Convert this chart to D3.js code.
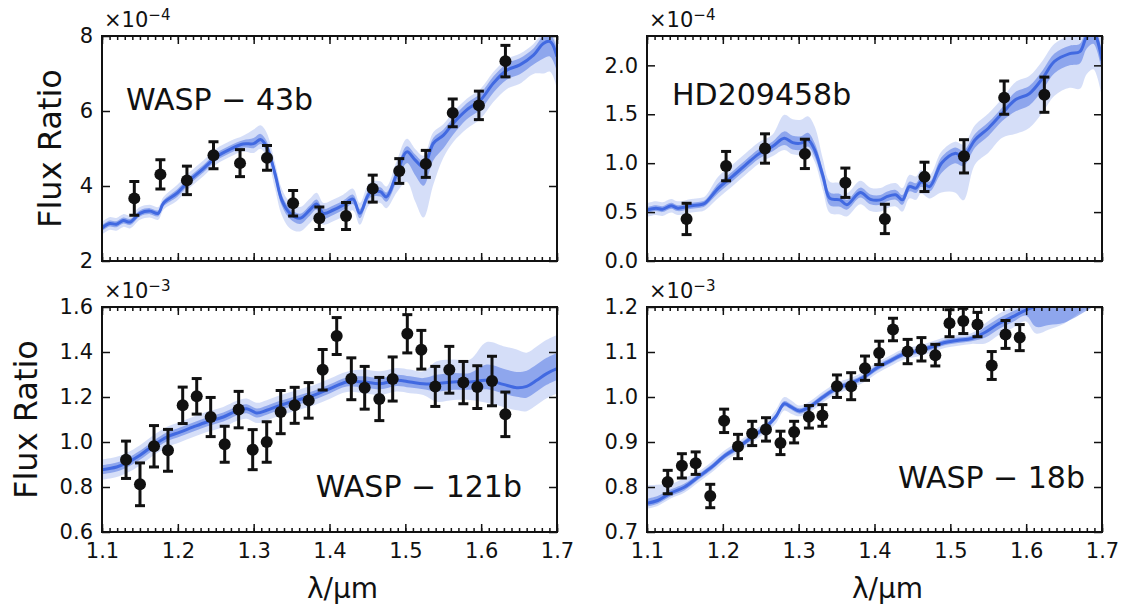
<!DOCTYPE html>
<html>
<head>
<meta charset="utf-8">
<script src="https://cdn.jsdelivr.net/npm/d3@7"></script>
<style>
  body { margin: 0; background: #fff; }
  text { font-family: "DejaVu Sans", sans-serif; fill: #111; }
</style>
</head>
<body>
<svg id="chart" width="1126" height="608"></svg>
<script>
// x axis
const xTicks = [1.1, 1.2, 1.3, 1.4, 1.5, 1.6, 1.7];

// WASP-43b (x1e-4)
const w43Wave = [1.1426, 1.177, 1.212, 1.247, 1.282, 1.3176, 1.352, 1.3866, 1.4218, 1.457, 1.492, 1.527, 1.5625, 1.597, 1.632];
const w43Flux = [3.67, 4.31, 4.15, 4.82, 4.61, 4.75, 3.54, 3.14, 3.2, 3.93, 4.4, 4.59, 5.95, 6.15, 7.33];
const w43Err  = [0.45, 0.39, 0.38, 0.36, 0.36, 0.33, 0.34, 0.3, 0.36, 0.36, 0.33, 0.36, 0.37, 0.38, 0.42];
const w43ModelWave = [1.100, 1.110, 1.119, 1.128, 1.137, 1.150, 1.163, 1.174, 1.181, 1.199, 1.216, 1.234, 1.251, 1.269, 1.286, 1.300, 1.309, 1.317, 1.328, 1.337, 1.348, 1.361, 1.374, 1.383, 1.392, 1.405, 1.418, 1.431, 1.440, 1.453, 1.467, 1.475, 1.489, 1.502, 1.513, 1.524, 1.537, 1.550, 1.563, 1.581, 1.599, 1.616, 1.634, 1.651, 1.669, 1.682, 1.691, 1.700];
const w43ModelMed  = [2.88, 3.00, 2.98, 3.08, 3.04, 3.27, 3.33, 3.27, 3.54, 3.81, 4.16, 4.47, 4.78, 4.98, 5.12, 5.13, 5.24, 5.05, 4.34, 3.63, 3.27, 3.14, 3.36, 3.52, 3.27, 3.36, 3.49, 3.65, 3.27, 3.81, 3.85, 3.71, 4.34, 4.91, 4.69, 4.51, 5.14, 5.35, 5.67, 6.03, 6.29, 6.74, 7.09, 7.23, 7.49, 7.80, 7.85, 7.45];
const w43Up1 = [.08, .08, .08, .08, .08, .08, .08, .08, .08, .1, .1, .1, .1, .1, .1, .15, .15, .15, .13, .13, .13, .12, .12, .12, .12, .12, .12, .12, .12, .12, .12, .12, .15, .15, .15, .15, .15, .15, .15, .18, .18, .18, .18, .18, .18, .2, .2, .2];
const w43Dn1 = [.08, .08, .08, .08, .08, .08, .08, .08, .08, .1, .1, .1, .1, .1, .1, .12, .12, .12, .15, .15, .15, .15, .15, .15, .13, .13, .13, .13, .13, .13, .13, .13, .2, .3, .4, .5, .45, .35, .3, .25, .25, .25, .25, .25, .25, .4, .4, .4];
const w43Up2 = [.17, .17, .17, .17, .17, .17, .17, .17, .17, .22, .22, .22, .22, .22, .22, .38, .38, .38, .3, .3, .3, .3, .3, .3, .28, .28, .28, .28, .28, .28, .28, .28, .35, .35, .3, .3, .3, .3, .3, .3, .3, .3, .3, .3, .3, .3, .3, .3];
const w43Dn2 = [.17, .17, .17, .17, .17, .17, .17, .17, .17, .2, .2, .2, .2, .2, .2, .25, .25, .25, .4, .4, .4, .35, .35, .35, .3, .3, .3, .3, .3, .3, .3, .3, .5, .8, 1.1, 1.35, 1.1, .6, .5, .5, .5, .5, .5, .5, .5, .8, .8, .85];
const w43YTicks = [2, 4, 6, 8];

// HD209458b (x1e-4)
const hdWave = [1.1522, 1.2043, 1.2556, 1.3082, 1.3616, 1.4137, 1.4659, 1.518, 1.571, 1.624];
const hdFlux = [0.43, 0.97, 1.15, 1.095, 0.80, 0.43, 0.86, 1.07, 1.67, 1.70];
const hdErr  = [0.16, 0.15, 0.15, 0.15, 0.15, 0.15, 0.15, 0.17, 0.17, 0.18];
const hdModelWave = [1.100, 1.1117, 1.1206, 1.1318, 1.1406, 1.1585, 1.170, 1.1763, 1.1941, 1.2119, 1.2297, 1.2475, 1.2653, 1.281, 1.2921, 1.3032, 1.3122, 1.3211, 1.3322, 1.3412, 1.3545, 1.3635, 1.3813, 1.3946, 1.4079, 1.4169, 1.428, 1.4369, 1.4459, 1.4548, 1.4614, 1.4726, 1.4883, 1.5061, 1.5172, 1.5327, 1.5505, 1.5684, 1.5862, 1.604, 1.6218, 1.6373, 1.6574, 1.6708, 1.6797, 1.6886, 1.700];
const hdModelMed  = [0.52, 0.54, 0.53, 0.565, 0.54, 0.565, 0.575, 0.59, 0.745, 0.86, 0.98, 1.095, 1.17, 1.255, 1.21, 1.205, 1.24, 1.135, 0.865, 0.64, 0.625, 0.575, 0.70, 0.63, 0.625, 0.66, 0.677, 0.625, 0.76, 0.745, 0.81, 0.76, 1.0, 1.10, 1.07, 1.24, 1.36, 1.51, 1.65, 1.71, 1.87, 2.04, 2.12, 2.14, 2.29, 2.34, 2.05];
const hdUp1 = [.03, .03, .03, .03, .03, .03, .03, .03, .05, .05, .05, .05, .05, .07, .07, .07, .07, .07, .06, .06, .06, .05, .05, .05, .05, .05, .05, .05, .05, .05, .05, .05, .06, .06, .06, .06, .06, .06, .08, .08, .08, .08, .08, .08, .08, .08, .08];
const hdDn1 = [.03, .03, .03, .03, .03, .03, .03, .03, .05, .05, .05, .05, .05, .07, .07, .07, .07, .07, .07, .07, .07, .05, .05, .05, .05, .05, .05, .05, .05, .05, .05, .05, .1, .1, .1, .08, .08, .08, .12, .12, .12, .12, .12, .12, .12, .12, .12];
const hdUp2 = [.07, .07, .07, .07, .07, .07, .07, .07, .12, .12, .12, .12, .12, .24, .24, .24, .24, .24, .17, .17, .17, .12, .12, .12, .12, .12, .12, .12, .12, .12, .12, .12, .12, .12, .12, .15, .15, .15, .18, .18, .18, .18, .18, .18, .18, .18, .18];
const hdDn2 = [.07, .07, .07, .07, .07, .07, .07, .07, .1, .1, .1, .1, .1, .12, .12, .12, .12, .12, .15, .15, .15, .12, .12, .12, .12, .12, .12, .12, .12, .12, .12, .12, .3, .4, .45, .25, .25, .25, .35, .35, .35, .35, .35, .38, .38, .38, .38];
const hdYTicks = [0.0, 0.5, 1.0, 1.5, 2.0];

// WASP-121b (x1e-3)
const w121Wave = [1.1317, 1.1501, 1.1686, 1.187, 1.2064, 1.2249, 1.2433, 1.2618, 1.2802, 1.2987, 1.3172, 1.3356, 1.3541, 1.3725, 1.391, 1.4095, 1.4288, 1.4464, 1.4657, 1.4833, 1.5026, 1.5211, 1.5395, 1.558, 1.5765, 1.5949, 1.6143, 1.6319];
const w121Flux = [0.921, 0.812, 0.981, 0.963, 1.163, 1.203, 1.111, 0.99, 1.144, 0.966, 1.0, 1.133, 1.163, 1.185, 1.321, 1.471, 1.281, 1.241, 1.191, 1.28, 1.481, 1.41, 1.247, 1.321, 1.264, 1.244, 1.271, 1.123];
const w121Err  = [0.083, 0.095, 0.092, 0.093, 0.081, 0.079, 0.087, 0.08, 0.081, 0.089, 0.09, 0.096, 0.08, 0.079, 0.09, 0.082, 0.093, 0.095, 0.096, 0.098, 0.085, 0.086, 0.089, 0.104, 0.094, 0.095, 0.11, 0.099];
const w121ModelWave = [1.100, 1.1193, 1.1325, 1.1501, 1.1677, 1.1853, 1.2029, 1.2204, 1.2381, 1.260, 1.2776, 1.2908, 1.304, 1.3172, 1.3347, 1.3567, 1.3787, 1.4007, 1.4227, 1.4446, 1.4666, 1.4886, 1.5062, 1.5237, 1.5413, 1.5633, 1.5853, 1.6073, 1.6292, 1.6469, 1.660, 1.6732, 1.6864, 1.700];
const w121ModelMed  = [0.877, 0.889, 0.907, 0.941, 0.985, 1.022, 1.044, 1.067, 1.089, 1.111, 1.138, 1.148, 1.129, 1.141, 1.163, 1.185, 1.207, 1.237, 1.267, 1.267, 1.259, 1.274, 1.267, 1.259, 1.259, 1.267, 1.267, 1.274, 1.256, 1.241, 1.247, 1.274, 1.304, 1.326];
const w121Up1 = [.02, .02, .02, .02, .02, .02, .02, .02, .02, .02, .02, .02, .02, .02, .02, .02, .02, .02, .02, .025, .025, .025, .025, .025, .04, .04, .04, .07, .07, .07, .07, .07, .07, .07];
const w121Dn1 = [.02, .02, .02, .02, .02, .02, .02, .02, .02, .02, .02, .02, .02, .02, .02, .02, .02, .02, .02, .025, .025, .025, .025, .025, .035, .035, .035, .04, .04, .04, .05, .05, .05, .05];
const w121Up2 = [.045, .045, .045, .045, .045, .045, .045, .045, .045, .045, .045, .045, .045, .045, .045, .045, .045, .045, .045, .055, .055, .055, .055, .055, .1, .1, .1, .17, .17, .17, .15, .15, .15, .15];
const w121Dn2 = [.045, .045, .045, .045, .045, .045, .045, .045, .045, .045, .045, .045, .045, .045, .045, .045, .045, .045, .045, .05, .05, .05, .05, .05, .08, .08, .08, .1, .1, .1, .11, .11, .11, .11];
const w121YTicks = [0.6, 0.8, 1.0, 1.2, 1.4, 1.6];

// WASP-18b (x1e-3)
const w18Wave = [1.1273, 1.146, 1.1642, 1.1834, 1.2017, 1.22, 1.2387, 1.2569, 1.276, 1.294, 1.3135, 1.3313, 1.3505, 1.3692, 1.3875, 1.4062, 1.4244, 1.4437, 1.4619, 1.4802, 1.4989, 1.5171, 1.5358, 1.5546, 1.5728, 1.5915];
const w18Flux = [0.811, 0.847, 0.853, 0.78, 0.947, 0.89, 0.919, 0.928, 0.898, 0.922, 0.956, 0.959, 1.024, 1.024, 1.064, 1.098, 1.15, 1.101, 1.106, 1.093, 1.164, 1.169, 1.161, 1.07, 1.139, 1.132];
const w18Err  = [0.026, 0.027, 0.025, 0.026, 0.026, 0.027, 0.027, 0.026, 0.026, 0.024, 0.025, 0.024, 0.025, 0.03, 0.027, 0.026, 0.025, 0.027, 0.026, 0.024, 0.03, 0.028, 0.027, 0.031, 0.031, 0.029];
const w18ModelWave = [1.100, 1.114, 1.1318, 1.1496, 1.1674, 1.1852, 1.203, 1.2208, 1.2387, 1.2565, 1.2698, 1.281, 1.2899, 1.3011, 1.3144, 1.3322, 1.350, 1.3678, 1.3856, 1.4035, 1.4214, 1.4392, 1.457, 1.4748, 1.4926, 1.5104, 1.5281, 1.5461, 1.5639, 1.5817, 1.5995, 1.6128, 1.630, 1.650, 1.680, 1.700];
const w18ModelMed  = [0.764, 0.77, 0.787, 0.80, 0.822, 0.844, 0.87, 0.889, 0.911, 0.933, 0.956, 0.985, 0.978, 0.969, 0.978, 1.0, 1.019, 1.03, 1.044, 1.065, 1.081, 1.096, 1.102, 1.111, 1.121, 1.126, 1.13, 1.144, 1.163, 1.178, 1.193, 1.201, 1.21, 1.215, 1.222, 1.228];
const w18Up1 = [.01, .01, .008, .008, .006, .006, .006, .006, .006, .006, .006, .006, .006, .006, .006, .006, .006, .006, .006, .006, .006, .006, .006, .006, .006, .006, .006, .012, .012, .012, .012, .03, .03, .03, .03, .03];
const w18Dn1 = [.007, .007, .007, .007, .006, .006, .006, .006, .006, .006, .006, .006, .006, .006, .006, .006, .006, .006, .006, .006, .006, .006, .006, .006, .006, .006, .006, .012, .012, .012, .012, .045, .05, .05, .03, .015];
const w18Up2 = [.04, .035, .02, .02, .012, .012, .012, .012, .012, .012, .015, .015, .015, .012, .012, .012, .012, .012, .012, .012, .012, .012, .012, .012, .012, .012, .012, .02, .022, .022, .022, .05, .05, .05, .05, .05];
const w18Dn2 = [.012, .012, .012, .012, .012, .012, .012, .012, .012, .012, .015, .015, .015, .012, .012, .012, .012, .012, .012, .012, .012, .012, .012, .012, .012, .012, .012, .025, .025, .025, .025, .06, .06, .052, .025, .02];
const w18YTicks = [0.7, 0.8, 0.9, 1.0, 1.1, 1.2];

const panels = [
  { name: 'WASP \u2212 43b', wave: w43Wave, flux: w43Flux, err: w43Err,
    mw: w43ModelWave, med: w43ModelMed, up1: w43Up1, dn1: w43Dn1, up2: w43Up2, dn2: w43Dn2,
    yTicks: w43YTicks, yFmt: d3.format('d'), exp: '\u22124',
    x: 102, y: 36, lx: 126, ly: 110, anchor: 'start', bottom: false, ylabX: 61 },
  { name: 'HD209458b', wave: hdWave, flux: hdFlux, err: hdErr,
    mw: hdModelWave, med: hdModelMed, up1: hdUp1, dn1: hdDn1, up2: hdUp2, dn2: hdDn2,
    yTicks: hdYTicks, yFmt: d3.format('.1f'), exp: '\u22124', yMax: 2.3,
    x: 647, y: 36, lx: 672, ly: 105, anchor: 'start', bottom: false, ylabX: 0 },
  { name: 'WASP \u2212 121b', wave: w121Wave, flux: w121Flux, err: w121Err,
    mw: w121ModelWave, med: w121ModelMed, up1: w121Up1, dn1: w121Dn1, up2: w121Up2, dn2: w121Dn2,
    yTicks: w121YTicks, yFmt: d3.format('.1f'), exp: '\u22123',
    x: 102, y: 307, lx: 522, ly: 497, anchor: 'end', bottom: true, ylabX: 37 },
  { name: 'WASP \u2212 18b', wave: w18Wave, flux: w18Flux, err: w18Err,
    mw: w18ModelWave, med: w18ModelMed, up1: w18Up1, dn1: w18Dn1, up2: w18Up2, dn2: w18Dn2,
    yTicks: w18YTicks, yFmt: d3.format('.1f'), exp: '\u22123',
    x: 647, y: 307, lx: 1085, ly: 488, anchor: 'end', bottom: true, ylabX: 0 }
];

const W = 455, H = 225;
const svg = d3.select('#chart');
const minorTicks = d3.range(110, 171).map(d => d / 100);

panels.forEach((p, i) => {
  const g = svg.append('g').attr('transform', 'translate(' + p.x + ',' + p.y + ')');
  const x = d3.scaleLinear().domain([1.1, 1.7]).range([0, W]);
  const yTop = p.yMax || p.yTicks[p.yTicks.length - 1];
  const y = d3.scaleLinear().domain([p.yTicks[0], yTop]).range([H, 0]);

  g.append('clipPath').attr('id', 'clip' + i)
    .append('rect').attr('width', W).attr('height', H);
  const plot = g.append('g').attr('clip-path', 'url(#clip' + i + ')');

  const idx = d3.range(p.mw.length);
  const curve = d3.curveCatmullRom.alpha(0.5);
  const outer = d3.area().curve(curve)
    .x(j => x(p.mw[j])).y0(j => y(p.med[j] - p.dn2[j])).y1(j => y(p.med[j] + p.up2[j]));
  const inner = d3.area().curve(curve)
    .x(j => x(p.mw[j])).y0(j => y(p.med[j] - p.dn1[j])).y1(j => y(p.med[j] + p.up1[j]));
  const line = d3.line().curve(curve).x(j => x(p.mw[j])).y(j => y(p.med[j]));

  plot.append('path').attr('d', outer(idx)).attr('fill', 'royalblue').attr('fill-opacity', 0.22);
  plot.append('path').attr('d', inner(idx)).attr('fill', 'royalblue').attr('fill-opacity', 0.48);
  plot.append('path').attr('d', line(idx)).attr('fill', 'none')
    .attr('stroke', 'royalblue').attr('stroke-width', 3);

  const pts = plot.selectAll('g.pt').data(d3.range(p.wave.length)).enter().append('g');
  pts.append('line')
    .attr('x1', j => x(p.wave[j])).attr('x2', j => x(p.wave[j]))
    .attr('y1', j => y(p.flux[j] - p.err[j])).attr('y2', j => y(p.flux[j] + p.err[j]))
    .attr('stroke', '#111').attr('stroke-width', 3);
  [-1, 1].forEach(s => {
    pts.append('line')
      .attr('x1', j => x(p.wave[j]) - 5).attr('x2', j => x(p.wave[j]) + 5)
      .attr('y1', j => y(p.flux[j] + s * p.err[j])).attr('y2', j => y(p.flux[j] + s * p.err[j]))
      .attr('stroke', '#111').attr('stroke-width', 3);
  });
  pts.append('circle')
    .attr('cx', j => x(p.wave[j])).attr('cy', j => y(p.flux[j])).attr('r', 6)
    .attr('fill', '#111');

  // axes, ticks pointing inward
  const styleAxis = a => {
    a.select('.domain').remove();
    a.selectAll('line').attr('stroke', '#111').attr('stroke-width', 1.5);
    a.selectAll('text').style('font-size', '21px').attr('fill', '#111');
  };
  g.append('g').attr('transform', 'translate(0,' + H + ')')
    .call(d3.axisBottom(x).tickValues(minorTicks).tickSize(-4).tickFormat(''))
    .call(styleAxis);
  g.append('g')
    .call(d3.axisTop(x).tickValues(minorTicks).tickSize(-4).tickFormat(''))
    .call(styleAxis);
  g.append('g').attr('transform', 'translate(0,' + H + ')')
    .call(d3.axisBottom(x).tickValues(xTicks).tickSize(-8).tickPadding(11)
      .tickFormat(p.bottom ? d3.format('.1f') : ''))
    .call(styleAxis);
  g.append('g')
    .call(d3.axisTop(x).tickValues(xTicks).tickSize(-8).tickFormat(''))
    .call(styleAxis);
  g.append('g')
    .call(d3.axisLeft(y).tickValues(p.yTicks).tickSize(-8).tickPadding(9).tickFormat(p.yFmt))
    .call(styleAxis);
  g.append('g').attr('transform', 'translate(' + W + ',0)')
    .call(d3.axisRight(y).tickValues(p.yTicks).tickSize(-8).tickFormat(''))
    .call(styleAxis);

  g.append('rect').attr('width', W).attr('height', H)
    .attr('fill', 'none').attr('stroke', '#111').attr('stroke-width', 2);

  // offset text
  const off = g.append('text').attr('x', 2).attr('y', -9).style('font-size', '21px');
  off.append('tspan').text('\u00d710');
  off.append('tspan').attr('dy', -7).style('font-size', '15px').text(p.exp);

  svg.append('text').attr('x', p.lx).attr('y', p.ly).attr('text-anchor', p.anchor)
    .style('font-size', '30px').text(p.name);

  if (p.ylabX) {
    svg.append('text')
      .attr('transform', 'translate(' + p.ylabX + ',' + (p.y + H / 2) + ') rotate(-90)')
      .attr('text-anchor', 'middle').style('font-size', '32px').text('Flux Ratio');
  }
  if (p.bottom) {
    svg.append('text').attr('x', p.x + W / 2 + 13).attr('y', 598)
      .attr('text-anchor', 'middle').style('font-size', '28px').text('\u03bb/\u03bcm');
  }
});
</script>
</body>
</html>
